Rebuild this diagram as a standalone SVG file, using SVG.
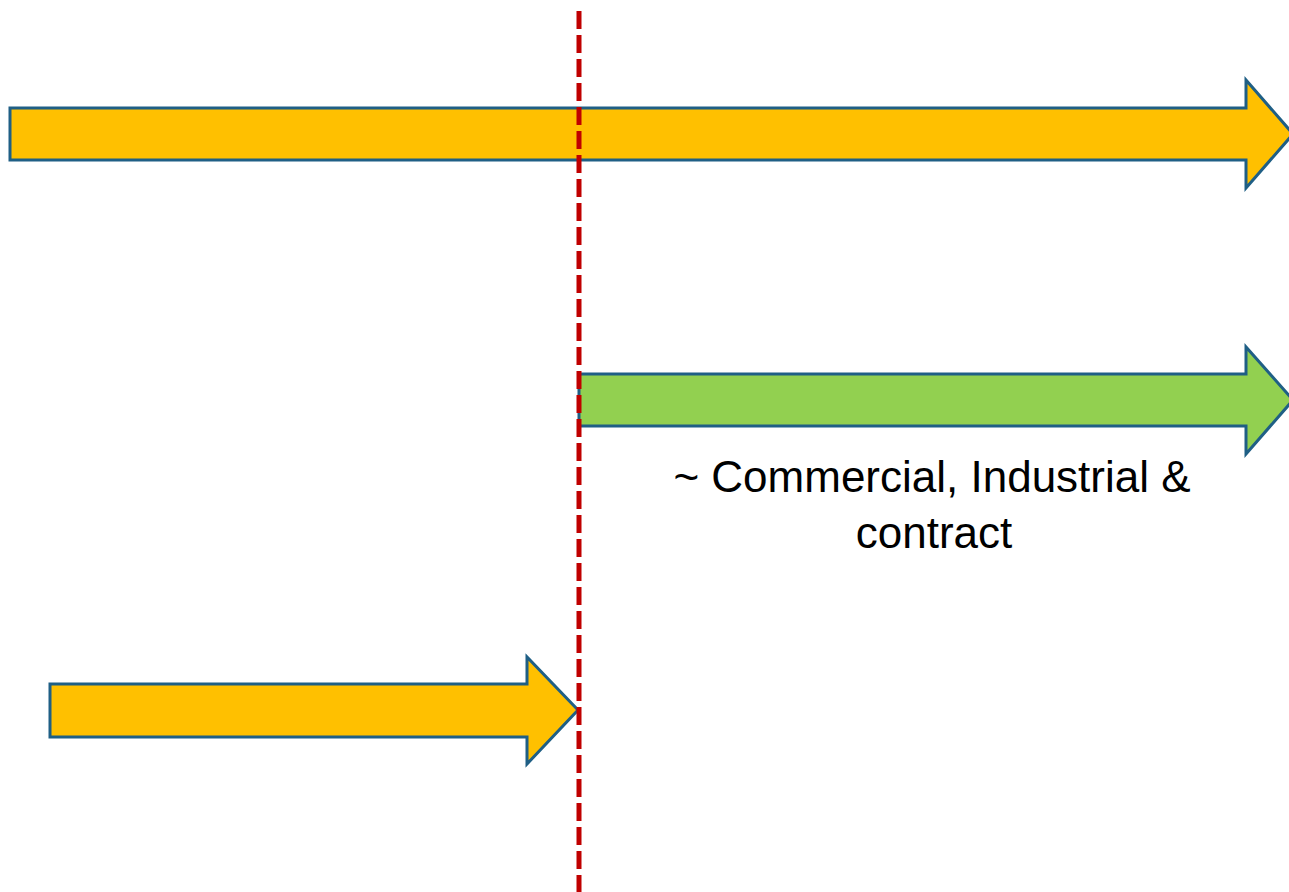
<svg xmlns="http://www.w3.org/2000/svg" width="1289" height="892" viewBox="0 0 1289 892">
<style>
.arr{stroke:#1F5F85;stroke-width:3;stroke-linejoin:miter}
.y{fill:#FFC000}
.g{fill:#92D050}
.lbl{font-family:"Liberation Sans",Arial,sans-serif;font-size:44px;fill:#000;text-anchor:middle}
</style>
<rect width="1289" height="892" fill="#fff"/>
<g id="arrow-top">
<polygon class="arr y" points="10,108 1246,108 1246,80 1293,134 1246,188 1246,160 10,160"/>
</g>
<g id="arrow-green">
<polygon class="arr g" points="579,374 1246,374 1246,347 1293,400 1246,454 1246,426 579,426"/>
</g>
<g id="arrow-bottom">
<polygon class="arr y" points="50,684 527,684 527,657 578,710 527,764 527,737 50,737"/>
</g>
<g id="connectors">
<line x1="579" y1="11" x2="579" y2="892" stroke="#C00000" stroke-width="5" stroke-dasharray="18 6"/>
</g>
<g id="label">
<text class="lbl" x="932" y="492">~ Commercial, Industrial &amp;</text>
<text class="lbl" x="934" y="548">contract</text>
</g>
</svg>
